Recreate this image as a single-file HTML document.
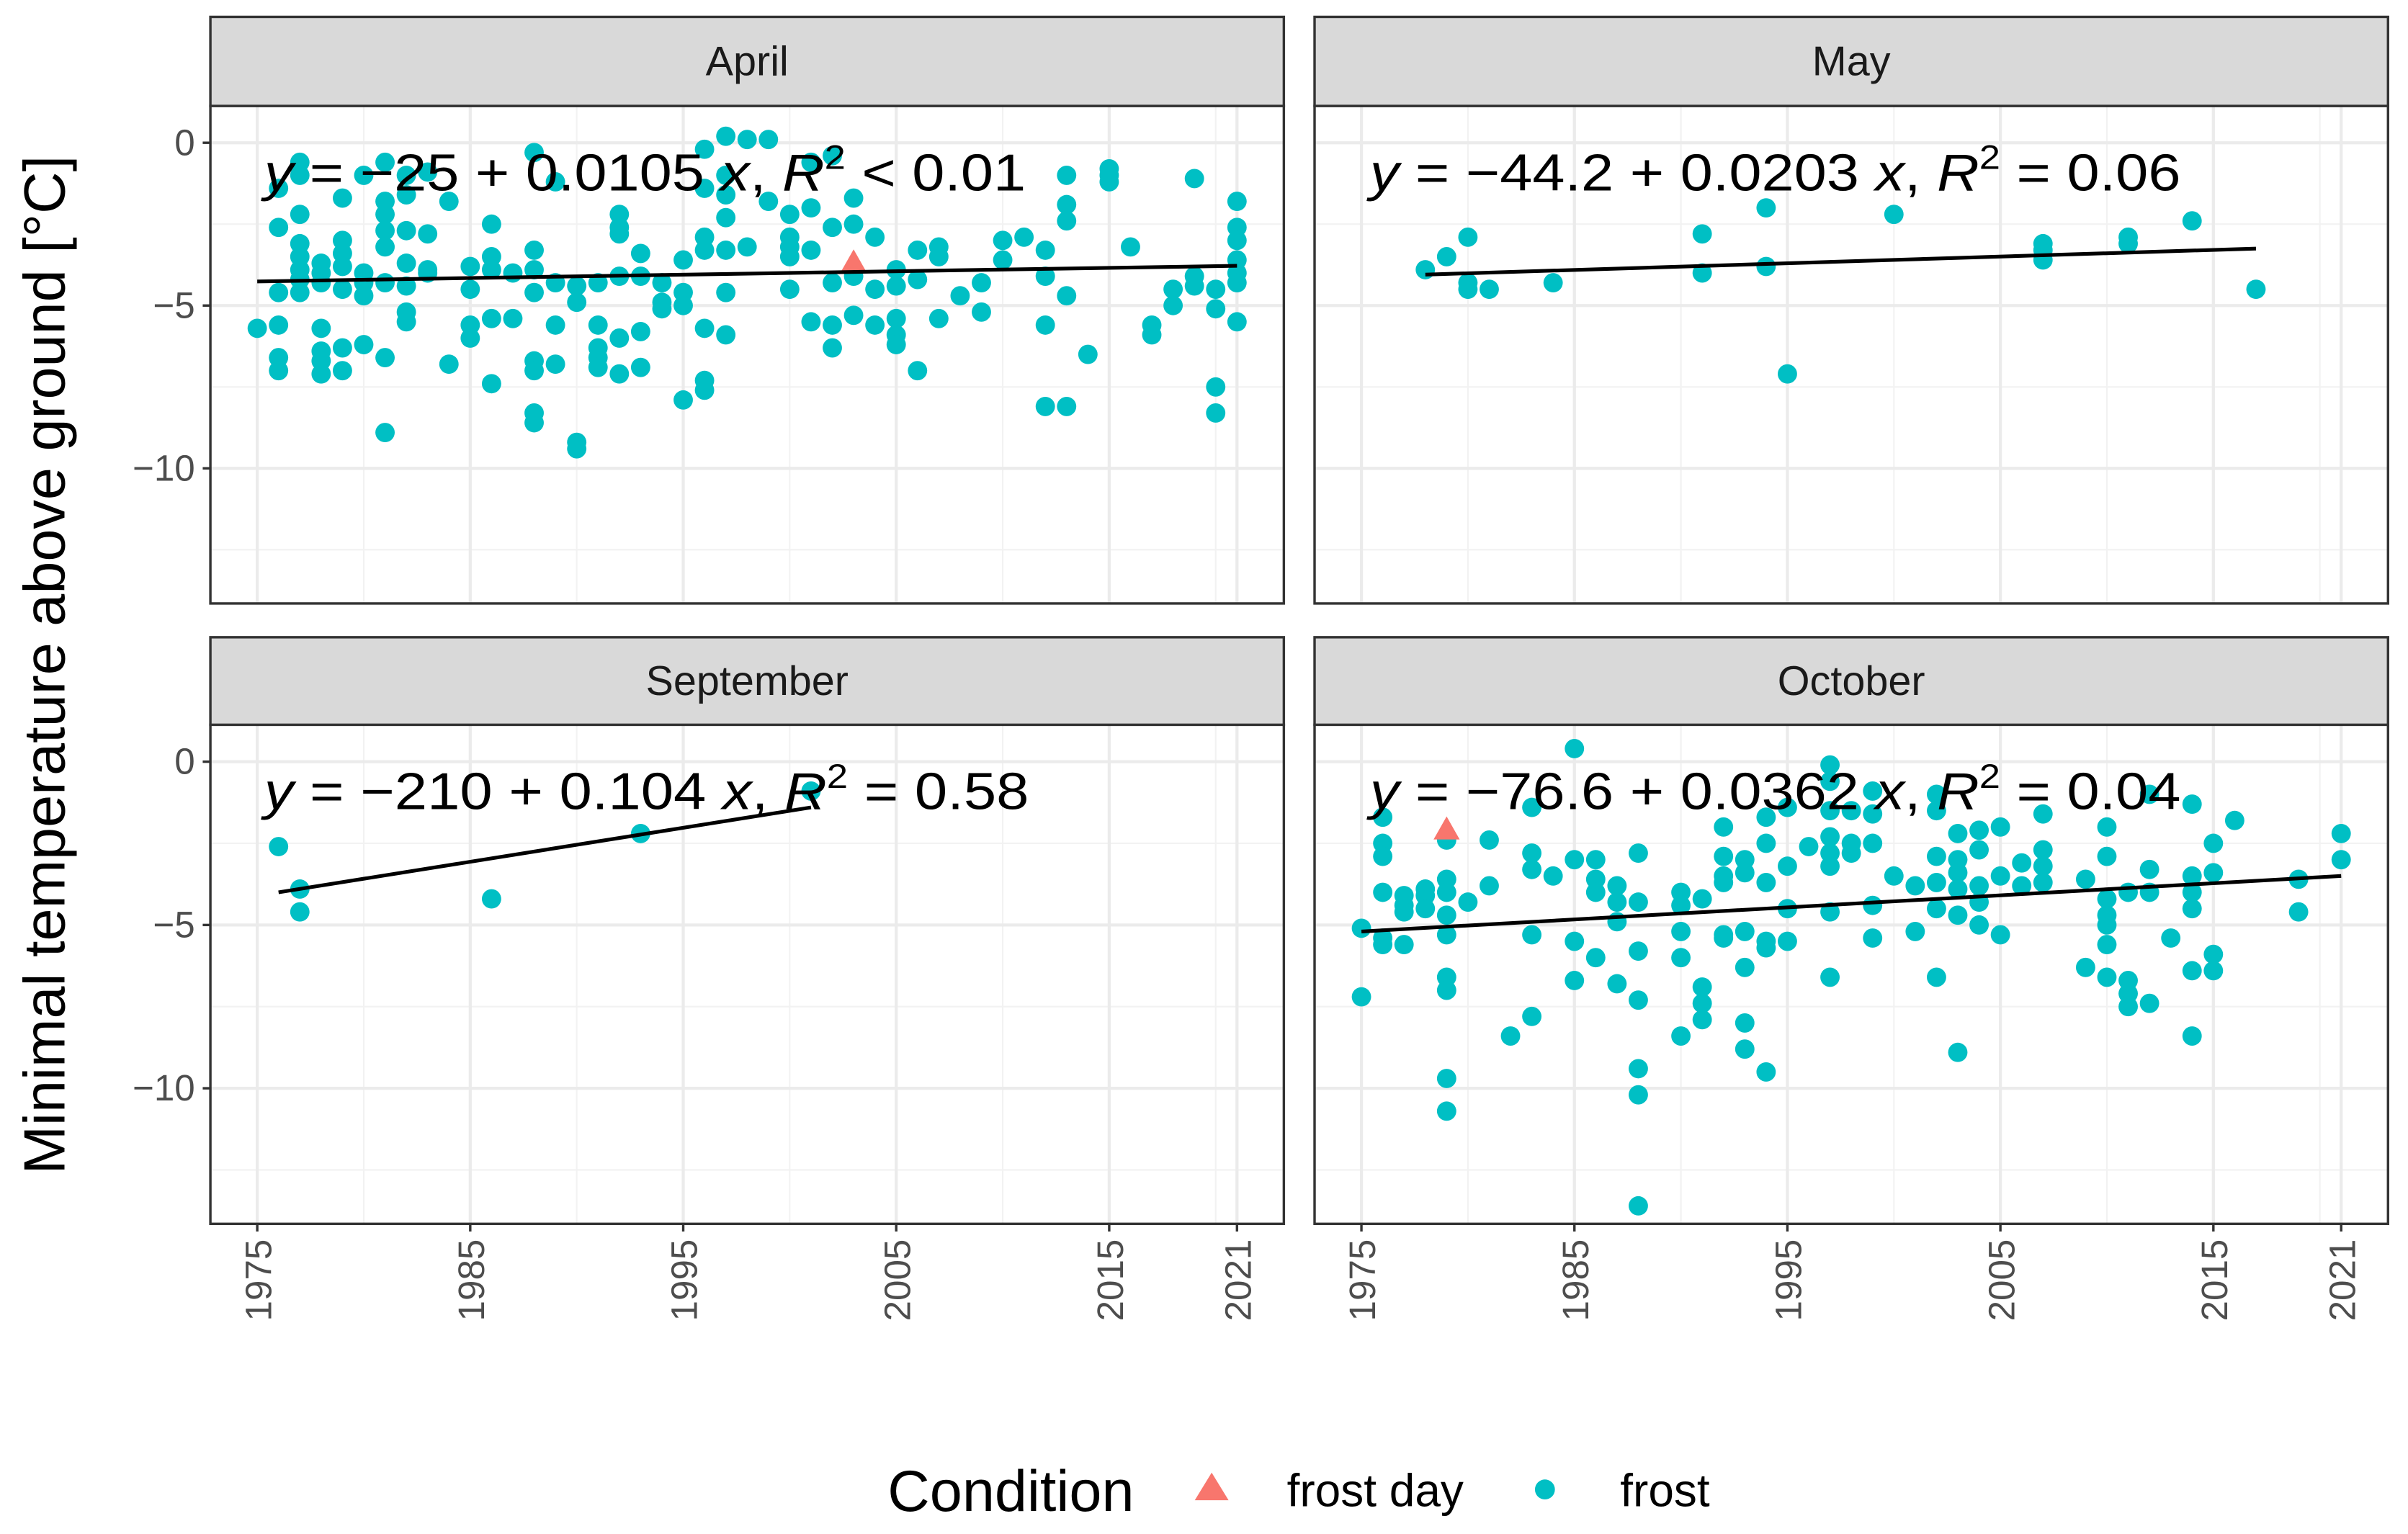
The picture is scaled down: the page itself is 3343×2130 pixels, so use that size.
<!DOCTYPE html>
<html><head><meta charset="utf-8">
<style>
html,body{margin:0;padding:0;background:#fff;}
svg{display:block;font-family:"Liberation Sans",sans-serif;}
</style></head>
<body>
<svg id="chart" width="3343" height="2130" viewBox="0 0 1568 999" preserveAspectRatio="none" xmlns="http://www.w3.org/2000/svg">
<rect x="0" y="0" width="1568" height="999" fill="#fff"/>
<g id="panels"></g>
<text transform="translate(42,433) rotate(-90)" text-anchor="middle" font-size="38" fill="#000">Minimal temperature above ground [°C]</text>
<g>
<text x="578" y="984" font-size="38" fill="#000">Condition</text>
<polygon points="789,959 800,977 778,977" fill="#F8766D"/>
<text x="838" y="981" font-size="30" fill="#000">frost day</text>
<circle cx="1006" cy="970" r="6.5" fill="#00BFC4"/>
<text x="1055" y="981" font-size="30" fill="#000">frost</text>
</g>
</svg>
<script>
// ---- data ----
const months = ["April","May","September","October"];
const aprilFrost = {1975:[-5.7],1976:[-1.4,-2.6,-4.6,-5.6,-6.6,-7.0],1977:[-0.6,-1.0,-2.2,-3.1,-3.5,-3.9,-4.2,-4.6],1978:[-3.7,-4.0,-4.3,-5.7,-6.4,-6.7,-7.1],1979:[-1.7,-3.0,-3.4,-3.8,-4.5,-6.3,-7.0],1980:[-1.0,-4.0,-4.3,-4.7,-6.2],1981:[-0.6,-1.8,-2.2,-2.7,-3.2,-4.3,-6.6,-8.9],1982:[-1.0,-1.6,-2.7,-3.7,-4.4,-5.2,-5.5],1983:[-0.9,-2.8,-3.9,-4.0],1984:[-1.8,-6.8],1985:[-3.8,-4.5,-5.6,-6.0],1986:[-2.5,-3.5,-3.9,-5.4,-7.4],1987:[-4.0,-5.4],1988:[-0.3,-3.3,-3.9,-4.6,-6.7,-7.0,-8.3,-8.6],1989:[-1.2,-4.3,-5.6,-6.8],1990:[-4.4,-4.9,-9.2,-9.4],1991:[-4.3,-5.6,-6.3,-6.6,-6.9],1992:[-2.2,-2.6,-2.8,-4.1,-6.0,-7.1],1993:[-3.4,-4.1,-5.8,-6.9],1994:[-4.3,-4.9,-5.1],1995:[-3.6,-4.6,-5.0,-7.9],1996:[-0.2,-1.4,-2.9,-3.3,-5.7,-7.3,-7.6],1997:[0.2,-1.0,-1.6,-2.3,-3.3,-4.6,-5.9],1998:[0.1,-3.2],1999:[0.1,-1.8],2000:[-2.2,-2.9,-3.2,-3.5,-4.5],2001:[-0.6,-2.0,-3.3,-5.5],2002:[-0.4,-2.6,-4.3,-5.6,-6.3],2003:[-1.7,-2.5,-4.1,-5.3],2004:[-2.9,-4.5,-5.6],2005:[-3.9,-4.4,-5.4,-5.9,-6.2],2006:[-3.3,-4.2,-7.0],2007:[-3.2,-3.5,-5.4],2008:[-4.7],2009:[-4.3,-5.2],2010:[-3.0,-3.6],2011:[-2.9],2012:[-3.3,-4.1,-5.6,-8.1],2013:[-1.0,-1.9,-2.4,-4.7,-8.1],2014:[-6.5],2015:[-0.8,-1.0,-1.2],2016:[-3.2],2017:[-5.6,-5.9],2018:[-4.5,-5.0],2019:[-1.1,-4.1,-4.4],2020:[-4.5,-5.1,-7.5,-8.3],2021:[-1.8,-2.6,-3.0,-3.6,-4.0,-4.3,-5.5]};
const mayFrost = {1978:[-3.9],1979:[-3.5],1980:[-2.9,-4.3,-4.5],1981:[-4.5],1984:[-4.3],1991:[-2.8,-4.0],1994:[-2.0,-3.8],1995:[-7.1],2000:[-2.2],2007:[-3.1,-3.3,-3.6],2011:[-2.9,-3.1],2014:[-2.4],2017:[-4.5]};
const septFrost = {1976:[-2.6],1977:[-3.9,-4.6],1986:[-4.2],1993:[-2.2],2001:[-0.9]};
const octFrost = {1975:[-5.1,-7.2],1976:[-1.7,-2.5,-2.9,-4.0,-5.4,-5.6],1977:[-4.1,-4.4,-4.6,-5.6],1978:[-3.9,-4.1,-4.5],1979:[-2.4,-3.6,-4.0,-4.7,-5.3,-6.6,-7.0,-9.7,-10.7],1980:[-4.3],1981:[-2.4,-3.8],1982:[-8.4],1983:[-1.4,-2.8,-3.3,-5.3,-7.8],1984:[-3.5],1985:[0.4,-3.0,-5.5,-6.7],1986:[-3.0,-3.6,-4.0,-6.0],1987:[-3.8,-4.3,-4.9,-6.8],1988:[-2.8,-4.3,-5.8,-7.3,-9.4,-10.2,-13.6],1990:[-4.0,-4.4,-5.2,-6.0,-8.4],1991:[-4.2,-6.9,-7.4,-7.9],1992:[-2.0,-2.9,-3.5,-3.7,-5.3,-5.4],1993:[-3.0,-3.4,-5.2,-6.3,-8.0,-8.8],1994:[-1.7,-2.5,-3.7,-5.5,-5.7,-9.5],1995:[-1.4,-3.2,-4.5,-5.5],1996:[-2.6],1997:[-0.1,-0.6,-1.5,-2.3,-2.8,-3.2,-4.6,-6.6],1998:[-1.5,-2.5,-2.8],1999:[-0.9,-1.6,-2.5,-4.4,-5.4],2000:[-3.5],2001:[-3.8,-5.2],2002:[-1.0,-1.5,-2.9,-3.7,-4.5,-6.6],2003:[-2.2,-3.0,-3.4,-3.9,-4.7,-8.9],2004:[-2.1,-2.7,-3.8,-4.3,-5.0],2005:[-2.0,-3.5,-5.3],2006:[-3.1,-3.8],2007:[-1.6,-2.7,-3.2,-3.7],2009:[-3.6,-6.3],2010:[-2.0,-2.9,-4.2,-4.7,-5.0,-5.6,-6.6],2011:[-4.0,-6.7,-7.1,-7.5],2012:[-1.0,-3.3,-4.0,-7.4],2013:[-5.4],2014:[-1.3,-3.5,-4.0,-4.5,-6.4,-8.4],2015:[-2.5,-3.4,-5.9,-6.4],2016:[-1.8],2019:[-3.6,-4.6],2021:[-2.2,-3.0]};
const frostDayYears = [[2003],[],[],[1979]];
const frostDayTemps = [[-3.7],[],[],[-2.1]];
const fitStartYear = [1975,1978,1976,1975];
const fitEndYear = [2021,2017,2001,2021];
const fitStartTemp = [-4.26,-4.05,-4.0,-5.2];
const fitEndTemp = [-3.78,-3.25,-1.4,-3.5];
const equations = [
 ["y","= −25 + 0.0105 ","x",", ","R","2"," < 0.01"],
 ["y","= −44.2 + 0.0203 ","x",", ","R","2"," = 0.06"],
 ["y","= −210 + 0.104 ","x",", ","R","2"," = 0.58"],
 ["y","= −76.6 + 0.0362 ","x",", ","R","2"," = 0.04"]];
const xTicks = [1975,1985,1995,2005,2015,2021];
const yTicks = [0,-5,-10];
const frostData = [aprilFrost,mayFrost,septFrost,octFrost];

// ---- layout ----
const NS="http://www.w3.org/2000/svg";
const panelsG=document.getElementById('panels');
const boxes=[{x0:137,x1:836,sy:11,py0:69,py1:393},{x0:856,x1:1555,sy:11,py0:69,py1:393},
             {x0:137,x1:836,sy:415,py0:472,py1:797},{x0:856,x1:1555,sy:415,py0:472,py1:797}];
const eqX=[172,892,172,892], eqW=[496,528,498,528];
function mk(tag,attrs,parent){const e=document.createElementNS(NS,tag);for(const k in attrs)e.setAttribute(k,attrs[k]);(parent||panelsG).appendChild(e);return e;}

months.forEach((m,i)=>{
  const b=boxes[i];
  const xMin=1972.8,xMax=2023.2,yMax=1.13,yMin=-14.15;
  const sx=v=>b.x0+(v-xMin)/(xMax-xMin)*(b.x1-b.x0);
  const sy=v=>b.py0+(yMax-v)/(yMax-yMin)*(b.py1-b.py0);
  const g=mk('g',{});
  
  
  mk('rect',{x:b.x0,y:b.py0,width:b.x1-b.x0,height:b.py1-b.py0,fill:'#fff'},g);
  for(let v=1980;v<=2020;v+=10){mk('line',{x1:sx(v),x2:sx(v),y1:b.py0,y2:b.py1,stroke:'#f2f2f2','stroke-width':1},g);}
  [-2.5,-7.5,-12.5].forEach(v=>mk('line',{x1:b.x0,x2:b.x1,y1:sy(v),y2:sy(v),stroke:'#f2f2f2','stroke-width':1},g));
  xTicks.forEach(v=>mk('line',{x1:sx(v),x2:sx(v),y1:b.py0,y2:b.py1,stroke:'#ebebeb','stroke-width':2},g));
  yTicks.forEach(v=>mk('line',{x1:b.x0,x2:b.x1,y1:sy(v),y2:sy(v),stroke:'#ebebeb','stroke-width':2},g));
  const d=frostData[i];
  Object.keys(d).forEach(yr=>{d[yr].forEach(t=>{
    const c=mk('circle',{cx:sx(+yr),cy:sy(t),r:6.3,fill:'#00BFC4'},g);
    
    
  });});
  frostDayYears[i].forEach((yr,k)=>{
    const x=sx(yr),y=sy(frostDayTemps[i][k]);
    const p=mk('polygon',{points:`${x},${y-9} ${x+8.5},${y+6} ${x-8.5},${y+6}`,fill:'#F8766D'},g);
    
    
  });
  const fl=mk('line',{x1:sx(fitStartYear[i]),y1:sy(fitStartTemp[i]),x2:sx(fitEndYear[i]),y2:sy(fitEndTemp[i]),stroke:'#000','stroke-width':2.4},g);
  
  
  const e=equations[i];
  const t=mk('text',{x:eqX[i],y:b.py0+55,'font-size':34,fill:'#000',textLength:eqW[i],lengthAdjust:'spacingAndGlyphs'},g);
  
  
  t.innerHTML=`<tspan font-style="italic">${e[0]}</tspan> ${e[1]}<tspan font-style="italic">${e[2]}</tspan>${e[3]}<tspan font-style="italic">${e[4]}</tspan><tspan font-size="22" dy="-14">${e[5]}</tspan><tspan dy="14">${e[6]}</tspan>`;
  mk('rect',{x:b.x0,y:b.py0,width:b.x1-b.x0,height:b.py1-b.py0,fill:'none',stroke:'#333','stroke-width':1.6},g);
  const s=mk('rect',{x:b.x0,y:b.sy,width:b.x1-b.x0,height:b.py0-b.sy,fill:'#d9d9d9',stroke:'#333','stroke-width':1.6},g);
  
  
  const st=mk('text',{x:(b.x0+b.x1)/2,y:(b.sy+b.py0)/2+9,'text-anchor':'middle','font-size':27,fill:'#1a1a1a'},g);
  
  
  st.textContent=m;
  if(i%2===0){yTicks.forEach(v=>{
    mk('line',{x1:b.x0-5,x2:b.x0,y1:sy(v),y2:sy(v),stroke:'#333','stroke-width':1.6},g);
    const yt=mk('text',{x:b.x0-10,y:sy(v)+8,'text-anchor':'end','font-size':24,fill:'#4d4d4d'},g);
    
    
    yt.textContent=v===0?'0':'−'+Math.abs(v);
  });}
  if(i>=2){xTicks.forEach(v=>{
    mk('line',{x1:sx(v),x2:sx(v),y1:b.py1,y2:b.py1+5,stroke:'#333','stroke-width':1.6},g);
    const xt=mk('text',{transform:`translate(${sx(v)+9},${b.py1+10}) rotate(-90)`,'text-anchor':'end','font-size':24,fill:'#4d4d4d'},g);
    
    
    xt.textContent=v;
  });}
});
</script>
</body></html>
